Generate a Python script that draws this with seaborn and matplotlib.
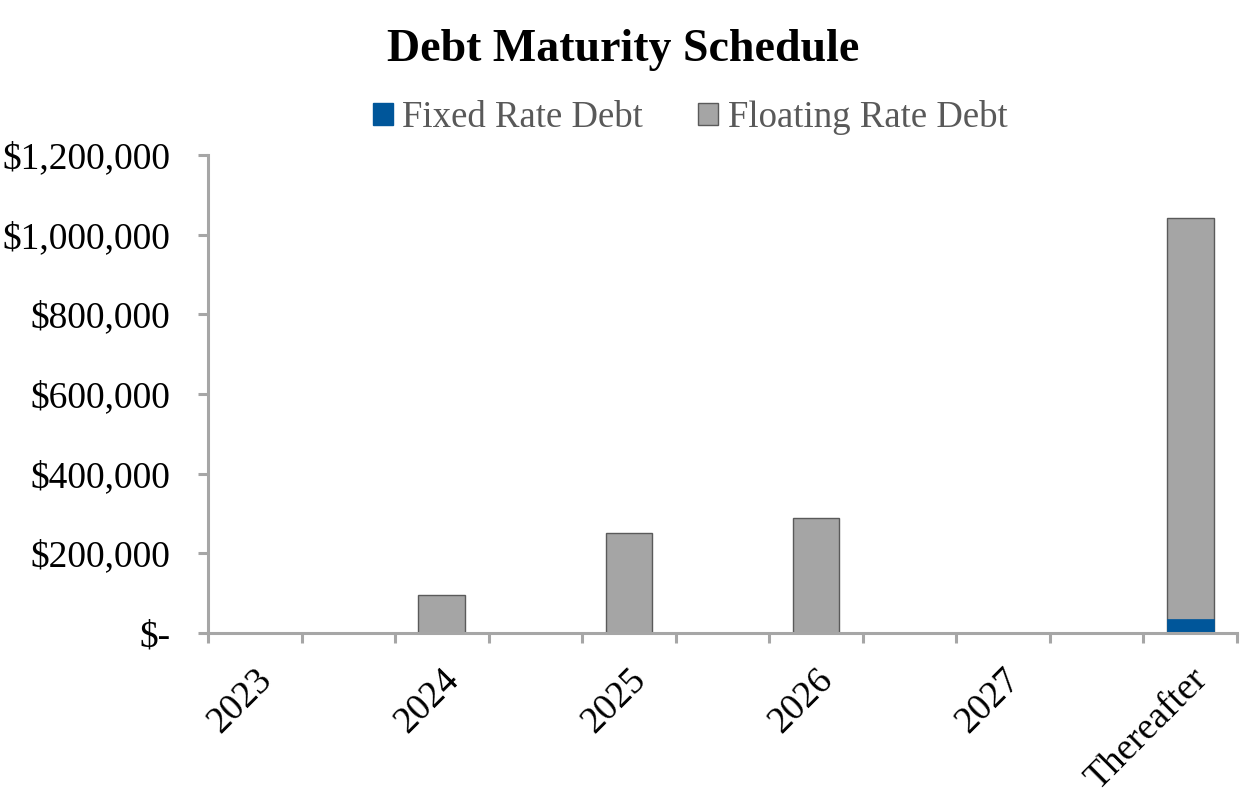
import matplotlib
matplotlib.use("Agg")
import matplotlib.pyplot as plt
import seaborn as sns
import pandas as pd
import numpy as np
from matplotlib.patches import Patch
from matplotlib.ticker import FuncFormatter, FixedLocator

labels = ["2023", "2024", "2025", "2026", "2027", "Thereafter"]
fixed_rate = [0, 0, 0, 0, 0, 35000]
floating_rate = [0, 95000, 251000, 289000, 0, 1008000]
y_ticks = [0, 200000, 400000, 600000, 800000, 1000000, 1200000]

BLUE = "#00569a"
GRAY = "#a5a5a5"
EDGE = "#5a5a5a"
AXC = "#a6a6a6"

sns.set_theme(style="white")
plt.rcParams["font.family"] = ["Liberation Serif", "DejaVu Serif"]

df = pd.DataFrame({
    "label": labels,
    "pos": [2 * i for i in range(len(labels))],
    "fixed": fixed_rate,
    "floating": floating_rate,
})
df["total"] = df["fixed"] + df["floating"]

fig = plt.figure(figsize=(12.5, 8.06), dpi=100)
ax = fig.add_axes([0.1664, 0.2146, 0.9896 - 0.1664, 0.8077 - 0.2146])

sns.barplot(data=df, x="pos", y="total", native_scale=True, width=0.25,
            color=GRAY, saturation=1, edgecolor=EDGE, linewidth=1.0, ax=ax,
            errorbar=None)
sns.barplot(data=df, x="pos", y="fixed", native_scale=True, width=0.25,
            color=BLUE, saturation=1, edgecolor=BLUE, linewidth=0.5, ax=ax,
            errorbar=None)

ax.set_xlim(-0.5, 10.5)
ax.set_ylim(0, 1200000)
ax.set_xlabel("")
ax.set_ylabel("")

ax.set_yticks(y_ticks)
ax.yaxis.set_major_formatter(FuncFormatter(lambda v, p: "$-" if v == 0 else "${:,.0f}".format(v)))
ax.tick_params(axis="y", which="major", length=7, width=2.2, color=AXC,
               direction="out", left=True, labelsize=27, labelcolor="black", pad=20)

ax.set_xticks(df["pos"].tolist())
ax.set_xticklabels(labels, rotation=45, ha="right", va="top",
                   rotation_mode="anchor")
ax.tick_params(axis="x", which="major", length=0, labelsize=27,
               labelcolor="black", pad=21)
ax.xaxis.set_minor_locator(FixedLocator(np.arange(-0.5, 11.0, 1.0)))
ax.tick_params(axis="x", which="minor", length=7, width=2.2, color=AXC,
               direction="out", bottom=True)

for s in ["top", "right"]:
    ax.spines[s].set_visible(False)
for s in ["left", "bottom"]:
    ax.spines[s].set_color(AXC)
    ax.spines[s].set_linewidth(2.2)
ax.grid(False)

fig.text(0.4984, 0.938, "Debt Maturity Schedule", ha="center", va="center",
         fontsize=33, fontweight="bold", color="black")

handles = [Patch(facecolor=BLUE, edgecolor=BLUE, label="Fixed Rate Debt"),
           Patch(facecolor=GRAY, edgecolor=EDGE, label="Floating Rate Debt")]
leg = fig.legend(handles=handles, loc="center", bbox_to_anchor=(0.552, 0.854),
                 ncol=2, frameon=False, fontsize=26.5, handlelength=0.55,
                 handleheight=0.55, handletextpad=0.25, columnspacing=1.5,
                 labelcolor="#595959")

fig.savefig("out.png", dpi=100)
